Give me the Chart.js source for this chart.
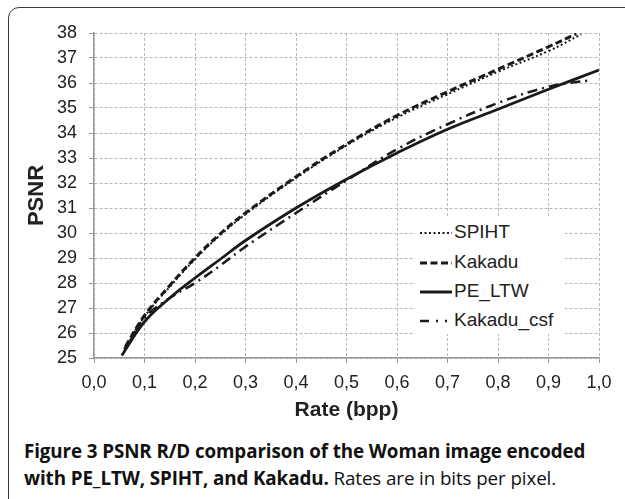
<!DOCTYPE html>
<html lang="en">
<head>
<meta charset="UTF-8">
<title>PSNR R/D - Woman</title>
<script src="https://cdn.jsdelivr.net/npm/chart.js"></script>
<style>
    body { margin: 0; background: #fff; width: 625px; height: 499px; overflow: hidden; position: relative; }
    .moldura { position: absolute; left: 8px; top: 7px; width: 700px; height: 600px; border: 1.5px solid #3a3a3a; border-top-left-radius: 11px; }
    #grafico { position: absolute; left: 0; top: 0; }
    .legenda { position: absolute; left: 415px; top: 216px; width: 150px; height: 118px; background: #fff; font-family: "Liberation Sans", Arial, sans-serif; font-size: 19px; color: #222; }
    .legenda-item { position: absolute; left: 4px; height: 22px; line-height: 22px; white-space: nowrap; display: flex; align-items: center; }
    .legenda-item svg { flex: none; margin-top: 1px; }
    .legenda-item svg line { stroke: #1a1a1a; }
    .legenda-item .rot { margin-left: 1px; }
    .item1 { top: 5px; }
    .item2 { top: 35px; }
    .item3 { top: 64px; }
    .item4 { top: 93px; }
    .caption { position: absolute; left: 24px; top: 438px; font-family: "Open Sans", "Noto Sans", sans-serif; font-size: 18.8px; line-height: 27px; color: #111; white-space: nowrap; letter-spacing: -0.1px; }
    .caption b { font-weight: 700; }
</style>
</head>
<body>
    <div class="moldura"></div>
    <canvas id="grafico" width="625" height="425"></canvas>

    <div class="legenda">
        <div class="legenda-item item1"><svg width="34" height="10"><line x1="1" y1="5" x2="33" y2="5" stroke-width="2" stroke-dasharray="2,2.5"></line></svg><span class="rot">SPIHT</span></div>
        <div class="legenda-item item2"><svg width="34" height="10"><line x1="1" y1="5" x2="33" y2="5" stroke-width="3" stroke-dasharray="7,3.5"></line></svg><span class="rot">Kakadu</span></div>
        <div class="legenda-item item3"><svg width="34" height="10"><line x1="1" y1="5" x2="33" y2="5" stroke-width="3"></line></svg><span class="rot">PE_LTW</span></div>
        <div class="legenda-item item4"><svg width="34" height="10"><line x1="1" y1="5" x2="33" y2="5" stroke-width="2.5" stroke-dasharray="9,7,2,7,2,20"></line></svg><span class="rot">Kakadu_csf</span></div>
    </div>

    <div class="caption">
        <b>Figure 3</b> <b>PSNR R/D comparison of the Woman image encoded</b><br>
        <b>with PE_LTW, SPIHT, and Kakadu.</b> Rates are in bits per pixel.
    </div>

<script>
    // valores (taxa em bpp, PSNR em dB)
    const taxaSpiht = [0.062, 0.1, 0.15, 0.2, 0.25, 0.3, 0.4, 0.5, 0.6, 0.7, 0.8, 0.9, 0.965];
    const psnrSpiht = [25.4, 26.65, 27.85, 28.95, 29.92, 30.75, 32.2, 33.5, 34.62, 35.55, 36.45, 37.28, 37.95];

    const taxaKakadu = [0.062, 0.1, 0.15, 0.2, 0.25, 0.3, 0.4, 0.5, 0.6, 0.7, 0.8, 0.9, 0.955];
    const psnrKakadu = [25.45, 26.7, 27.9, 29.0, 29.97, 30.8, 32.25, 33.55, 34.7, 35.65, 36.55, 37.45, 37.97];

    const taxaPeLtw = [0.055, 0.1, 0.15, 0.2, 0.25, 0.3, 0.4, 0.5, 0.6, 0.7, 0.8, 0.9, 1.0];
    const psnrPeLtw = [25.1, 26.45, 27.4, 28.2, 28.95, 29.7, 31.0, 32.15, 33.2, 34.15, 34.95, 35.75, 36.52];

    const taxaKakaduCsf = [0.06, 0.1, 0.15, 0.2, 0.25, 0.3, 0.4, 0.5, 0.6, 0.7, 0.8, 0.9, 0.985];
    const psnrKakaduCsf = [25.35, 26.6, 27.4, 28.0, 28.7, 29.45, 30.8, 32.1, 33.35, 34.35, 35.2, 35.85, 36.12];

    const ticksX = [0, 0.1, 0.2, 0.3, 0.4, 0.5, 0.6, 0.7, 0.8, 0.9, 1.0];
    const ticksY = [25, 26, 27, 28, 29, 30, 31, 32, 33, 34, 35, 36, 37, 38];

    const fonte = '"Liberation Sans", Arial, sans-serif';

    function pontos(taxas, valores) {
        return taxas.map((t, i) => ({ x: t, y: valores[i] }));
    }

    function serie(nome, taxas, valores, largura, tracejado) {
        return {
            label: nome,
            data: pontos(taxas, valores),
            borderColor: '#1a1a1a',
            borderWidth: largura,
            borderDash: tracejado,
            pointRadius: 0,
            fill: false,
            tension: 0.4
        };
    }

    const dados = {
        datasets: [
            serie('SPIHT', taxaSpiht, psnrSpiht, 2, [2, 2.5]),
            serie('Kakadu', taxaKakadu, psnrKakadu, 3, [7, 3.5]),
            serie('PE_LTW', taxaPeLtw, psnrPeLtw, 2.8, []),
            serie('Kakadu_csf', taxaKakaduCsf, psnrKakaduCsf, 2.5, [10, 5, 2, 5])
        ]
    };

    const config = {
        type: 'line',
        data: dados,
        options: {
            responsive: false,
            animation: false,
            layout: { padding: { top: 33, right: 26, bottom: 2, left: 0 } },
            plugins: { legend: { display: false }, tooltip: { enabled: false } },
            scales: {
                x: {
                    type: 'linear',
                    min: 0,
                    max: 1,
                    afterFit: s => { s.height = 65; },
                    afterBuildTicks: s => { s.ticks = ticksX.map(v => ({ value: v })); },
                    ticks: {
                        padding: 9,
                        color: '#222',
                        font: { family: fonte, size: 18 },
                        callback: v => v.toFixed(1).replace('.', ',')
                    },
                    grid: { color: '#b8b8b8', lineWidth: 1, tickLength: 5, tickColor: '#999' },
                    border: { color: '#9a9a9a', width: 1.5, dash: [3, 2] },
                    title: {
                        display: true,
                        text: 'Rate (bpp)',
                        color: '#222',
                        font: { family: fonte, size: 21, weight: 'bold' },
                        padding: { top: 0, bottom: 0 }
                    }
                },
                y: {
                    min: 25,
                    max: 38,
                    afterFit: s => { s.width = 94; },
                    afterBuildTicks: s => { s.ticks = ticksY.map(v => ({ value: v })); },
                    ticks: {
                        padding: 12,
                        color: '#222',
                        font: { family: fonte, size: 18 }
                    },
                    grid: { color: '#b8b8b8', lineWidth: 1, tickLength: 5, tickColor: '#999' },
                    border: { color: '#9a9a9a', width: 1.5, dash: [3, 2] },
                    title: {
                        display: true,
                        text: 'PSNR',
                        color: '#222',
                        font: { family: fonte, size: 22, weight: 'bold' },
                        padding: { top: 24, bottom: 0 }
                    }
                }
            }
        }
    };

    let grafico = new Chart(document.getElementById('grafico'), config);
</script>
</body>
</html>
